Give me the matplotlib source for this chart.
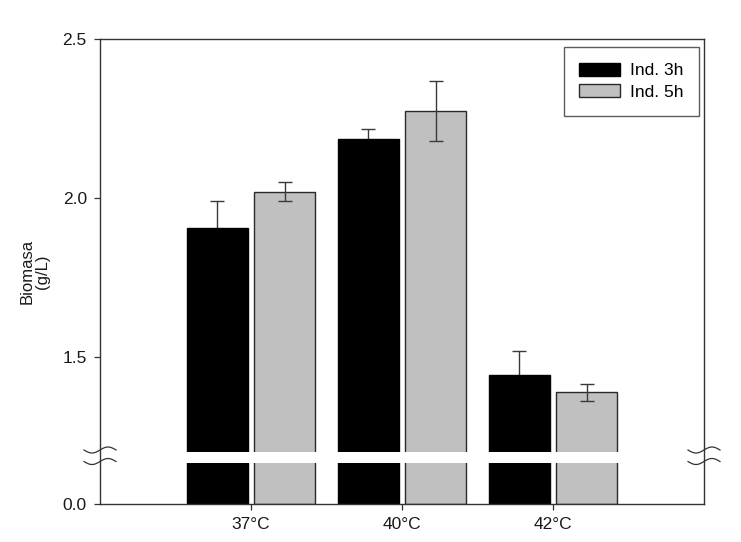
import numpy as np
import matplotlib
matplotlib.use("Agg")
import matplotlib.pyplot as plt
from matplotlib.scale import FuncScale

plt.rcParams['font.family'] = ['Liberation Sans', 'DejaVu Sans']

categories = ["37°C", "40°C", "42°C"]
series_names = ["Ind. 3h", "Ind. 5h"]
ind3h = [1.905, 2.184, 1.444]
ind3h_err = [0.085, 0.032, 0.075]
ind5h = [2.019, 2.273, 1.388]
ind5h_err = [0.030, 0.094, 0.028]
yticks = [0.0, 1.5, 2.0, 2.5]
ytick_labels = ["0.0", "1.5", "2.0", "2.5"]

# axis break parameters
A = 0.128   # top of lower segment
B = 1.2     # bottom of upper segment
G = 0.035   # visual gap size


def fwd(y):
    y = np.asarray(y, dtype=float)
    return np.where(y <= A, y,
                    np.where(y >= B, y - (B - A) + G,
                             A + (y - A) * (G / (B - A))))


def inv(v):
    v = np.asarray(v, dtype=float)
    return np.where(v <= A, v,
                    np.where(v >= A + G, v + (B - A) - G,
                             A + (v - A) * ((B - A) / G)))


fig = plt.figure(figsize=(7.41, 5.42), dpi=100)
ax = fig.add_axes([100 / 741, 1 - 504 / 542, 604 / 741, 465 / 542])
ax.set_yscale(FuncScale(ax, (fwd, inv)))

x = np.arange(len(categories))
w = 0.41
off = 0.222
ecol = '#3a3a3a'
ax.bar(x - off, ind3h, w, color='black', edgecolor='black', linewidth=1,
       label=series_names[0], zorder=1)
ax.bar(x + off, ind5h, w, color='#c0c0c0', edgecolor='#2a2a2a', linewidth=1,
       label=series_names[1], zorder=1)
# black-bar error bars sit behind the bars so only the upper half shows
ax.errorbar(x - off, ind3h, yerr=ind3h_err, fmt='none', ecolor=ecol,
            elinewidth=1, capsize=4.7, capthick=1, zorder=0.5)
ax.errorbar(x + off, ind5h, yerr=ind5h_err, fmt='none', ecolor=ecol,
            elinewidth=1, capsize=4.7, capthick=1, zorder=3)

# white band for axis break
ax.axhspan(A, B, color='white', zorder=2, linewidth=0)

ax.set_xlim(-1, 3)
ax.set_ylim(0, 2.5)
ax.set_xticks(x)
ax.set_xticklabels(categories)
ax.set_yticks(yticks)
ax.set_yticklabels(ytick_labels)
ax.yaxis.set_minor_locator(matplotlib.ticker.NullLocator())
ax.tick_params(axis='both', direction='out', length=4.5, width=0.9,
               color='#333333', labelsize=12.5, labelcolor='#1a1a1a', pad=5)
for s in ax.spines.values():
    s.set_linewidth(1.0)
    s.set_color('#333333')
    s.set_zorder(4)

ax.set_ylabel("Biomasa\n(g/L)", fontsize=12, color='#1a1a1a', linespacing=1.0)
ax.yaxis.set_label_coords(-0.083, 0.5)

# break marks on both spines
t = np.linspace(-np.pi, np.pi, 60)
ydisp = [(504 - 450) / 465, (504 - 461.5) / 465]
for xc in (0.0, 1.0):
    for yc in ydisp:
        xs = xc + t / np.pi * (16 / 604)
        ys = yc + np.sin(t) * (3.0 / 465)
        ax.plot(xs, ys, transform=ax.transAxes, color='#333333', lw=0.9,
                clip_on=False, zorder=5)

leg = ax.legend(loc='upper right', bbox_to_anchor=(0.9917, 0.982),
                borderaxespad=0, fontsize=12.5, frameon=True, fancybox=False,
                edgecolor='#333333', handlelength=2.36, handleheight=0.75,
                handletextpad=0.56, borderpad=0.9, labelspacing=0.35)
leg.get_frame().set_linewidth(1.0)

fig.savefig("out.png", dpi=100)
